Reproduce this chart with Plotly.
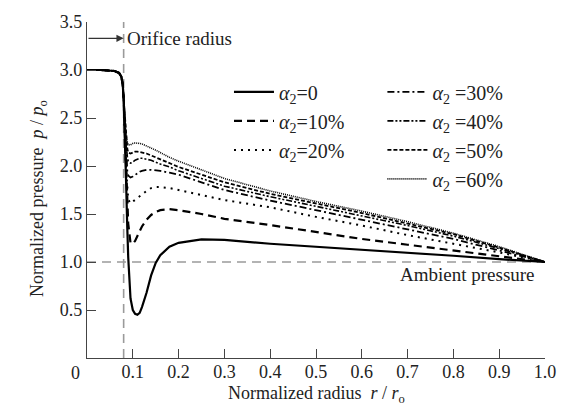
import plotly.graph_objects as go

# ---- data ----
r = [0.0, 0.03, 0.06, 0.07, 0.075, 0.078, 0.08, 0.082, 0.085, 0.088, 0.09, 0.095,
     0.10, 0.105, 0.11, 0.115, 0.12, 0.13, 0.14, 0.15, 0.16, 0.18, 0.20, 0.25,
     0.30, 0.40, 0.50, 0.60, 0.70, 0.80, 0.90, 1.0]

p_a0 = [3.0, 3.0, 2.99, 2.97, 2.93, 2.85, 2.7, 2.45, 1.9, 1.35, 1.05, 0.62,
        0.50, 0.46, 0.45, 0.47, 0.53, 0.68, 0.86, 0.99, 1.07, 1.16, 1.20, 1.235,
        1.23, 1.19, 1.16, 1.13, 1.10, 1.065, 1.03, 1.0]
p_a10 = [3.0, 3.0, 2.99, 2.97, 2.93, 2.85, 2.7, 2.45, 2.0, 1.6, 1.4, 1.2,
         1.19, 1.22, 1.27, 1.32, 1.37, 1.44, 1.49, 1.52, 1.54, 1.55, 1.54, 1.50,
         1.45, 1.385, 1.31, 1.24, 1.18, 1.12, 1.06, 1.0]
p_a20 = [3.0, 3.0, 2.99, 2.97, 2.93, 2.85, 2.7, 2.5, 2.0, 1.75, 1.65, 1.61,
         1.63, 1.65, 1.67, 1.69, 1.71, 1.74, 1.77, 1.78, 1.78, 1.77, 1.75, 1.70,
         1.645, 1.57, 1.47, 1.38, 1.28, 1.19, 1.10, 1.0]
p_a30 = [3.0, 3.0, 2.99, 2.97, 2.93, 2.85, 2.7, 2.5, 2.1, 1.95, 1.9, 1.88,
         1.89, 1.91, 1.93, 1.94, 1.95, 1.96, 1.96, 1.955, 1.95, 1.93, 1.91, 1.83,
         1.75, 1.64, 1.54, 1.44, 1.34, 1.24, 1.12, 1.0]
p_a40 = [3.0, 3.0, 2.99, 2.97, 2.93, 2.85, 2.7, 2.5, 2.25, 2.1, 2.05, 2.03,
         2.04, 2.06, 2.07, 2.08, 2.08, 2.07, 2.06, 2.04, 2.02, 1.99, 1.95, 1.87,
         1.79, 1.68, 1.58, 1.48, 1.38, 1.27, 1.14, 1.0]
p_a50 = [3.0, 3.0, 2.99, 2.97, 2.93, 2.85, 2.7, 2.55, 2.3, 2.18, 2.14, 2.13,
         2.14, 2.15, 2.15, 2.145, 2.14, 2.13, 2.11, 2.09, 2.07, 2.03, 1.99, 1.91,
         1.83, 1.71, 1.61, 1.51, 1.40, 1.29, 1.15, 1.0]
p_a60 = [3.0, 3.0, 2.99, 2.97, 2.93, 2.85, 2.7, 2.55, 2.35, 2.25, 2.22, 2.22,
         2.235, 2.24, 2.24, 2.235, 2.23, 2.21, 2.19, 2.165, 2.14, 2.09, 2.05, 1.96,
         1.87, 1.74, 1.63, 1.53, 1.42, 1.30, 1.16, 1.0]

series_labels = ["<i>α</i><sub>2</sub>=0", "<i>α</i><sub>2</sub>=10%", "<i>α</i><sub>2</sub>=20%",
                 "<i>α</i><sub>2</sub> =30%", "<i>α</i><sub>2</sub> =40%", "<i>α</i><sub>2</sub> =50%",
                 "<i>α</i><sub>2</sub> =60%"]
series_values = [p_a0, p_a10, p_a20, p_a30, p_a40, p_a50, p_a60]

x_ticks = [0.1, 0.2, 0.3, 0.4, 0.5, 0.6, 0.7, 0.8, 0.9, 1.0]
x_tick_text = ["0.1", "0.2", "0.3", "0.4", "0.5", "0.6", "0.7", "0.8", "0.9", "1.0"]
y_ticks = [0.5, 1.0, 1.5, 2.0, 2.5, 3.0, 3.5]
y_tick_text = ["0.5", "1.0", "1.5", "2.0", "2.5", "3.0", "3.5"]

orifice_r = 0.08
ambient_p = 1.0

# ---- styles ----
dashes = ["solid", "8px,5px", "2px,5px", "7px,3px,2px,3px", "6px,2px,2px,2px,2px,2px", "4px,2px", "1px,1px"]
widths = [2.2, 2.2, 2.0, 1.8, 1.6, 1.8, 1.6]
legends = ["legend", "legend", "legend", "legend2", "legend2", "legend2", "legend2"]

FONT = "Liberation Serif, Times New Roman, serif"

fig = go.Figure()
for i in range(len(series_values)):
    fig.add_trace(go.Scatter(
        x=r, y=series_values[i], mode="lines", name=series_labels[i],
        line=dict(color="black", width=widths[i], dash=dashes[i]),
        legend=legends[i], legendgroup=str(i),
    ))

fig.add_shape(type="line", x0=orifice_r, x1=orifice_r, y0=0, y1=3.5, xref="x", yref="y",
              line=dict(color="#9a9a9a", width=1.6, dash="9px,6px"), layer="below")
fig.add_shape(type="line", x0=0, x1=1.0, y0=ambient_p, y1=ambient_p, xref="x", yref="y",
              line=dict(color="#9a9a9a", width=1.6, dash="9px,6px"), layer="below")

fig.add_annotation(x=orifice_r, y=3.33, ax=0, ay=3.33, xref="x", yref="y", axref="x", ayref="y",
                   showarrow=True, arrowhead=2, arrowsize=1.2, arrowwidth=1.2, arrowcolor="#333",
                   text="")
fig.add_annotation(x=orifice_r, y=3.33, xref="x", yref="y", text="Orifice radius",
                   showarrow=False, xanchor="left", xshift=1, font=dict(family=FONT, size=19, color="#222"))
fig.add_annotation(x=0.83, y=0.875, xref="x", yref="y", text="Ambient pressure",
                   showarrow=False, font=dict(family=FONT, size=19, color="#222"))
fig.add_annotation(x=0, y=0, xref="x", yref="y", text="0", showarrow=False,
                   yanchor="top", xshift=-12, yshift=-3, font=dict(family=FONT, size=18, color="#222"))
# axis titles
fig.add_annotation(x=0.5, y=-0.11, xref="paper", yref="paper", yanchor="middle",
                   text="Normalized radius  <i>r</i> / <i>r</i><sub>o</sub>", showarrow=False,
                   font=dict(family=FONT, size=18, color="#222"))
fig.add_annotation(x=-0.135, y=0.475, xref="paper", yref="paper", textangle=-90,
                   text="Normalized pressure  <i>p</i> / <i>p</i><sub>o</sub>", showarrow=False,
                   font=dict(family=FONT, size=18, color="#222"))

# the page body adds an 8px offset, so the figure is 8px smaller and margins are shifted
fig.update_layout(
    width=559, height=399,
    margin=dict(l=79, r=22, t=14, b=49),
    paper_bgcolor="white", plot_bgcolor="white",
    font=dict(family=FONT, size=18, color="#222"),
    legend=dict(x=0.31, y=0.85, xanchor="left", yanchor="top", bgcolor="rgba(0,0,0,0)",
                font=dict(family=FONT, size=20), tracegroupgap=0, itemwidth=40),
    legend2=dict(x=0.645, y=0.85, xanchor="left", yanchor="top", bgcolor="rgba(0,0,0,0)",
                 font=dict(family=FONT, size=20), tracegroupgap=0, itemwidth=40),
    xaxis=dict(range=[0, 1.0], tickvals=x_ticks, ticktext=x_tick_text, ticks="inside", ticklen=9,
               tickcolor="#444", showline=True, linecolor="#444", linewidth=1.2, showgrid=False,
               zeroline=False, tickfont=dict(family=FONT, size=18), automargin=False,
               ticklabelstandoff=-3),
    yaxis=dict(range=[0, 3.5], tickvals=y_ticks, ticktext=y_tick_text, ticks="inside", ticklen=9,
               tickcolor="#444", showline=True, linecolor="#444", linewidth=1.2, showgrid=False,
               zeroline=False, tickfont=dict(family=FONT, size=18), automargin=False),
)

fig.write_html("out.html")
